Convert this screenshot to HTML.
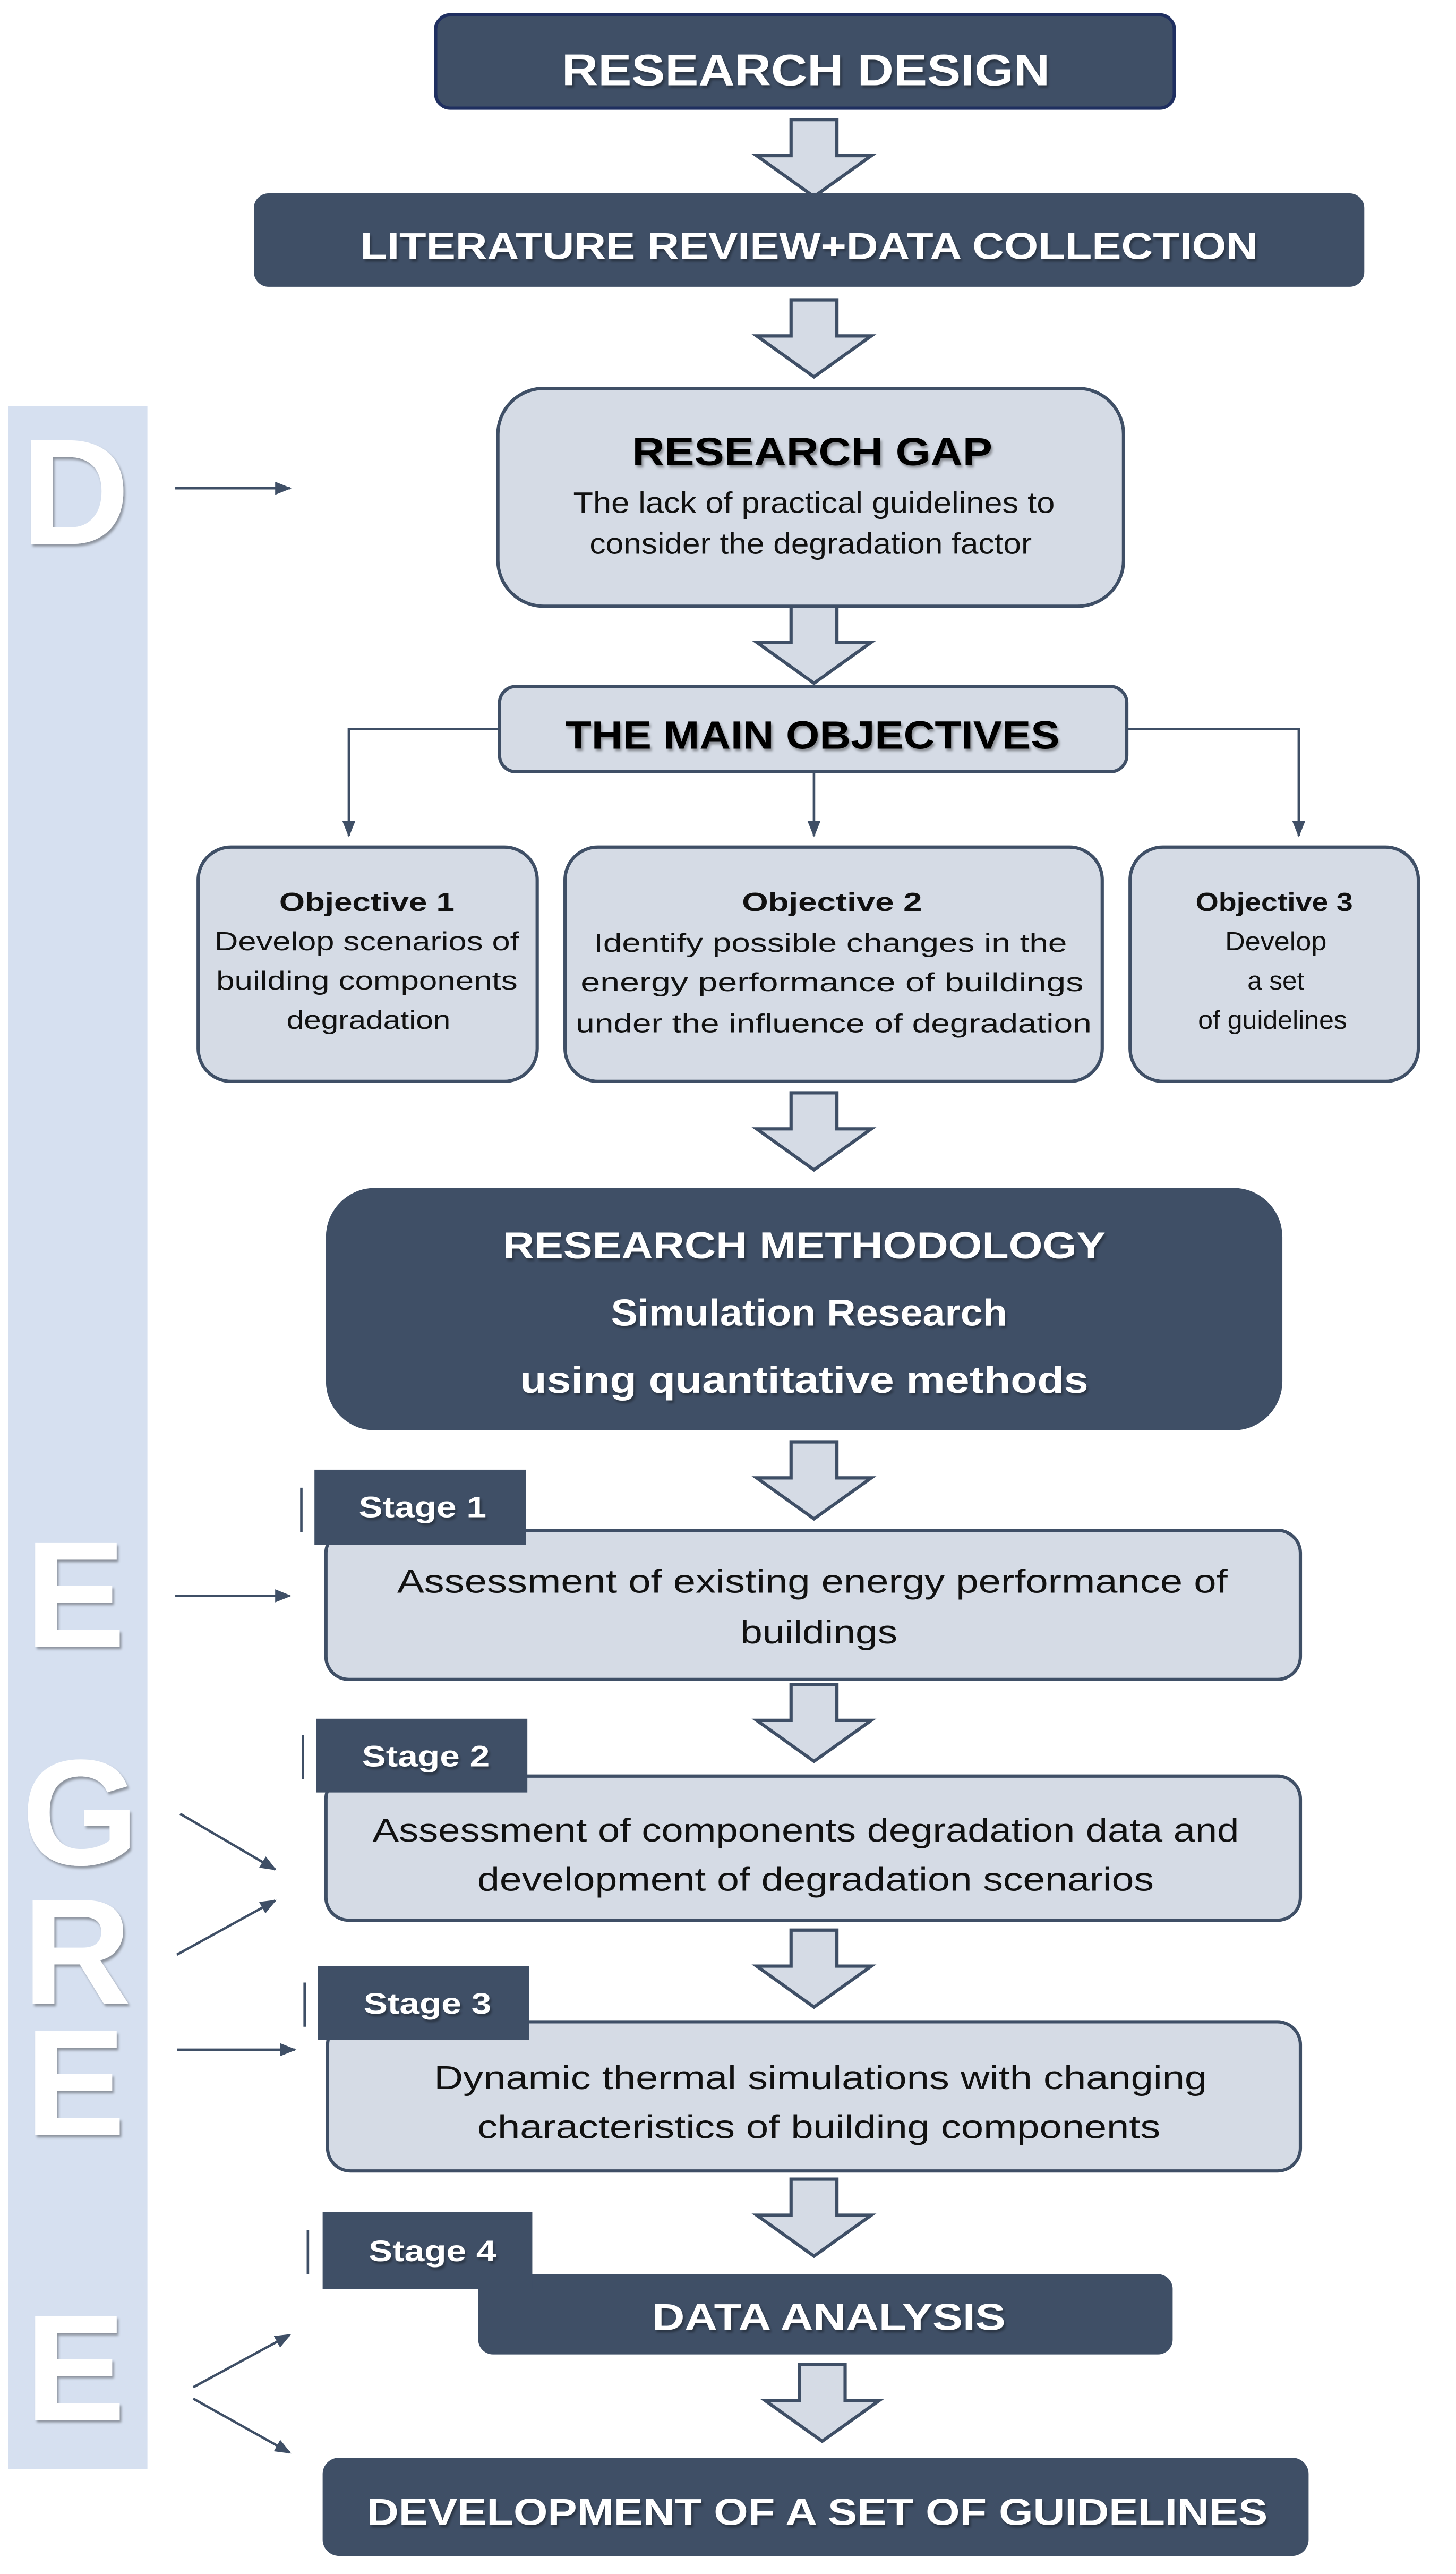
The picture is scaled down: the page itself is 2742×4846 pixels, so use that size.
<!DOCTYPE html>
<html><head><meta charset="utf-8"><style>
html,body{margin:0;padding:0;background:#fff}
svg{display:block}
text{font-family:"Liberation Sans",sans-serif}
</style></head><body>
<svg width="2742" height="4846" viewBox="0 0 889 1571" preserveAspectRatio="none" xmlns="http://www.w3.org/2000/svg">
<defs>
<marker id="ah" markerWidth="10" markerHeight="8" refX="9" refY="4" orient="auto" markerUnits="userSpaceOnUse"><path d="M0,0 L10,4 L0,8 z" fill="#3f4f66"/></marker>
<g id="barr"><path d="M-14,0 H14 V22 H35 L0,47 L-35,22 H-14 Z" fill="#d5dbe5" stroke="#3f4f66" stroke-width="2"/></g>
<filter id="sh"><feDropShadow dx="1" dy="1.5" stdDeviation="0.8" flood-color="#000" flood-opacity="0.35"/></filter>
</defs>
<!-- side bar -->
<rect x="5" y="248" width="85" height="1259" fill="#d6e0f0"/>
<g font-size="92" font-weight="bold" fill="#fff" text-anchor="middle" filter="url(#sh)">
<text x="46" y="332">D</text>
<text x="46" y="1005">E</text>
<text x="49" y="1138">G</text>
<text x="47" y="1223">R</text>
<text x="46" y="1303">E</text>
<text x="46" y="1477">E</text>
</g>
<g stroke="#3f4f66" stroke-width="1.5" fill="none" marker-end="url(#ah)">
<line x1="107" y1="298" x2="177" y2="298"/>
<line x1="107" y1="974" x2="177" y2="974"/>
<line x1="110" y1="1107" x2="168" y2="1141"/>
<line x1="108" y1="1193" x2="168" y2="1160"/>
<line x1="108" y1="1251" x2="180" y2="1251"/>
<line x1="118" y1="1457" x2="177" y2="1425"/>
<line x1="118" y1="1464" x2="177" y2="1497"/>
</g>
<!-- block arrows -->
<use href="#barr" x="497" y="73"/>
<use href="#barr" x="497" y="183"/>
<use href="#barr" x="497" y="370"/>
<use href="#barr" x="497" y="667"/>
<use href="#barr" x="497" y="880"/>
<use href="#barr" x="497" y="1028"/>
<use href="#barr" x="497" y="1178"/>
<use href="#barr" x="497" y="1330"/>
<use href="#barr" x="502" y="1443"/>
<!-- top boxes -->
<rect x="266" y="9" width="451" height="57" rx="9" fill="#3f4f66" stroke="#1f2f60" stroke-width="2"/>
<text x="492" y="52" font-size="27" font-weight="bold" fill="#fff" text-anchor="middle" textLength="298" lengthAdjust="spacingAndGlyphs" filter="url(#sh)">RESEARCH DESIGN</text>
<rect x="155" y="118" width="678" height="57" rx="9" fill="#3f4f66"/>
<text x="494" y="158" font-size="23" font-weight="bold" fill="#fff" text-anchor="middle" textLength="548" lengthAdjust="spacingAndGlyphs" filter="url(#sh)">LITERATURE REVIEW+DATA COLLECTION</text>
<rect x="304" y="237" width="382" height="133" rx="28" fill="#d5dbe5" stroke="#3f4f66" stroke-width="2"/>
<text x="496" y="284" font-size="24" font-weight="bold" fill="#000" text-anchor="middle" textLength="220" lengthAdjust="spacingAndGlyphs" filter="url(#sh)">RESEARCH GAP</text>
<text x="497" y="313" font-size="18" fill="#111" text-anchor="middle" textLength="294" lengthAdjust="spacingAndGlyphs">The lack of practical guidelines to</text>
<text x="495" y="338" font-size="18" fill="#111" text-anchor="middle" textLength="270" lengthAdjust="spacingAndGlyphs">consider the degradation factor</text>
<!-- main objectives -->
<g stroke="#3f4f66" stroke-width="1.5" fill="none">
<polyline points="305,445 213,445 213,510" marker-end="url(#ah)"/>
<polyline points="497,472 497,510" marker-end="url(#ah)"/>
<polyline points="688,445 793,445 793,510" marker-end="url(#ah)"/>
</g>
<rect x="305" y="419" width="383" height="52" rx="10" fill="#d5dbe5" stroke="#3f4f66" stroke-width="2"/>
<text x="496" y="457" font-size="24" font-weight="bold" fill="#000" text-anchor="middle" textLength="302" lengthAdjust="spacingAndGlyphs" filter="url(#sh)">THE MAIN OBJECTIVES</text>
<rect x="121" y="517" width="207" height="143" rx="20" fill="#d5dbe5" stroke="#3f4f66" stroke-width="2"/>
<rect x="345" y="517" width="328" height="143" rx="20" fill="#d5dbe5" stroke="#3f4f66" stroke-width="2"/>
<rect x="690" y="517" width="176" height="143" rx="20" fill="#d5dbe5" stroke="#3f4f66" stroke-width="2"/>
<g font-size="16" fill="#111" text-anchor="middle">
<text x="224" y="556" font-weight="bold" textLength="107" lengthAdjust="spacingAndGlyphs">Objective 1</text>
<text x="224" y="580" textLength="186" lengthAdjust="spacingAndGlyphs">Develop scenarios of</text>
<text x="224" y="604" textLength="184" lengthAdjust="spacingAndGlyphs">building components</text>
<text x="225" y="628" textLength="100" lengthAdjust="spacingAndGlyphs">degradation</text>
<text x="508" y="556" font-weight="bold" textLength="110" lengthAdjust="spacingAndGlyphs">Objective 2</text>
<text x="507" y="581" textLength="289" lengthAdjust="spacingAndGlyphs">Identify possible changes in the</text>
<text x="508" y="605" textLength="307" lengthAdjust="spacingAndGlyphs">energy performance of buildings</text>
<text x="509" y="630" textLength="315" lengthAdjust="spacingAndGlyphs">under the influence of degradation</text>
<text x="778" y="556" font-weight="bold" textLength="96" lengthAdjust="spacingAndGlyphs">Objective 3</text>
<text x="779" y="580" textLength="62" lengthAdjust="spacingAndGlyphs">Develop</text>
<text x="779" y="604">a set</text>
<text x="777" y="628" textLength="91" lengthAdjust="spacingAndGlyphs">of guidelines</text>
</g>
<!-- methodology -->
<rect x="199" y="725" width="584" height="148" rx="30" fill="#3f4f66"/>
<g font-size="23" font-weight="bold" fill="#fff" text-anchor="middle" filter="url(#sh)">
<text x="491" y="768" textLength="368" lengthAdjust="spacingAndGlyphs">RESEARCH METHODOLOGY</text>
<text x="494" y="809" textLength="242" lengthAdjust="spacingAndGlyphs">Simulation Research</text>
<text x="491" y="850" textLength="347" lengthAdjust="spacingAndGlyphs">using quantitative methods</text>
</g>
<!-- stages -->
<g stroke="#3f4f66" stroke-width="1.5">
<line x1="184" y1="908" x2="184" y2="935"/>
<line x1="185" y1="1059" x2="185" y2="1086"/>
<line x1="186" y1="1210" x2="186" y2="1237"/>
<line x1="188" y1="1361" x2="188" y2="1388"/>
</g>
<rect x="199" y="934" width="595" height="91" rx="14" fill="#d5dbe5" stroke="#3f4f66" stroke-width="2"/>
<rect x="199" y="1084" width="595" height="88" rx="14" fill="#d5dbe5" stroke="#3f4f66" stroke-width="2"/>
<rect x="200" y="1234" width="594" height="91" rx="14" fill="#d5dbe5" stroke="#3f4f66" stroke-width="2"/>
<rect x="292" y="1388" width="424" height="49" rx="9" fill="#3f4f66"/>
<rect x="192" y="897" width="129" height="46" fill="#3f4f66"/>
<rect x="193" y="1049" width="129" height="45" fill="#3f4f66"/>
<rect x="194" y="1200" width="129" height="45" fill="#3f4f66"/>
<rect x="197" y="1350" width="128" height="47" fill="#3f4f66"/>
<g font-size="18" font-weight="bold" fill="#fff" filter="url(#sh)">
<text x="219" y="926" textLength="78" lengthAdjust="spacingAndGlyphs">Stage 1</text>
<text x="221" y="1078" textLength="78" lengthAdjust="spacingAndGlyphs">Stage 2</text>
<text x="222" y="1229" textLength="78" lengthAdjust="spacingAndGlyphs">Stage 3</text>
<text x="225" y="1380" textLength="78" lengthAdjust="spacingAndGlyphs">Stage 4</text>
</g>
<g font-size="20" fill="#111" text-anchor="middle">
<text x="496" y="972" textLength="507" lengthAdjust="spacingAndGlyphs">Assessment of existing energy performance of</text>
<text x="500" y="1003" textLength="96" lengthAdjust="spacingAndGlyphs">buildings</text>
<text x="492" y="1124" textLength="529" lengthAdjust="spacingAndGlyphs">Assessment of components degradation data and</text>
<text x="498" y="1154" textLength="413" lengthAdjust="spacingAndGlyphs">development of degradation scenarios</text>
<text x="501" y="1275" textLength="472" lengthAdjust="spacingAndGlyphs">Dynamic thermal simulations with changing</text>
<text x="500" y="1305" textLength="417" lengthAdjust="spacingAndGlyphs">characteristics of building components</text>
</g>
<text x="506" y="1422" font-size="23" font-weight="bold" fill="#fff" text-anchor="middle" textLength="216" lengthAdjust="spacingAndGlyphs" filter="url(#sh)">DATA ANALYSIS</text>
<rect x="197" y="1500" width="602" height="60" rx="10" fill="#3f4f66"/>
<text x="499" y="1541" font-size="23" font-weight="bold" fill="#fff" text-anchor="middle" textLength="550" lengthAdjust="spacingAndGlyphs" filter="url(#sh)">DEVELOPMENT OF A SET OF GUIDELINES</text>
</svg>
</body></html>
